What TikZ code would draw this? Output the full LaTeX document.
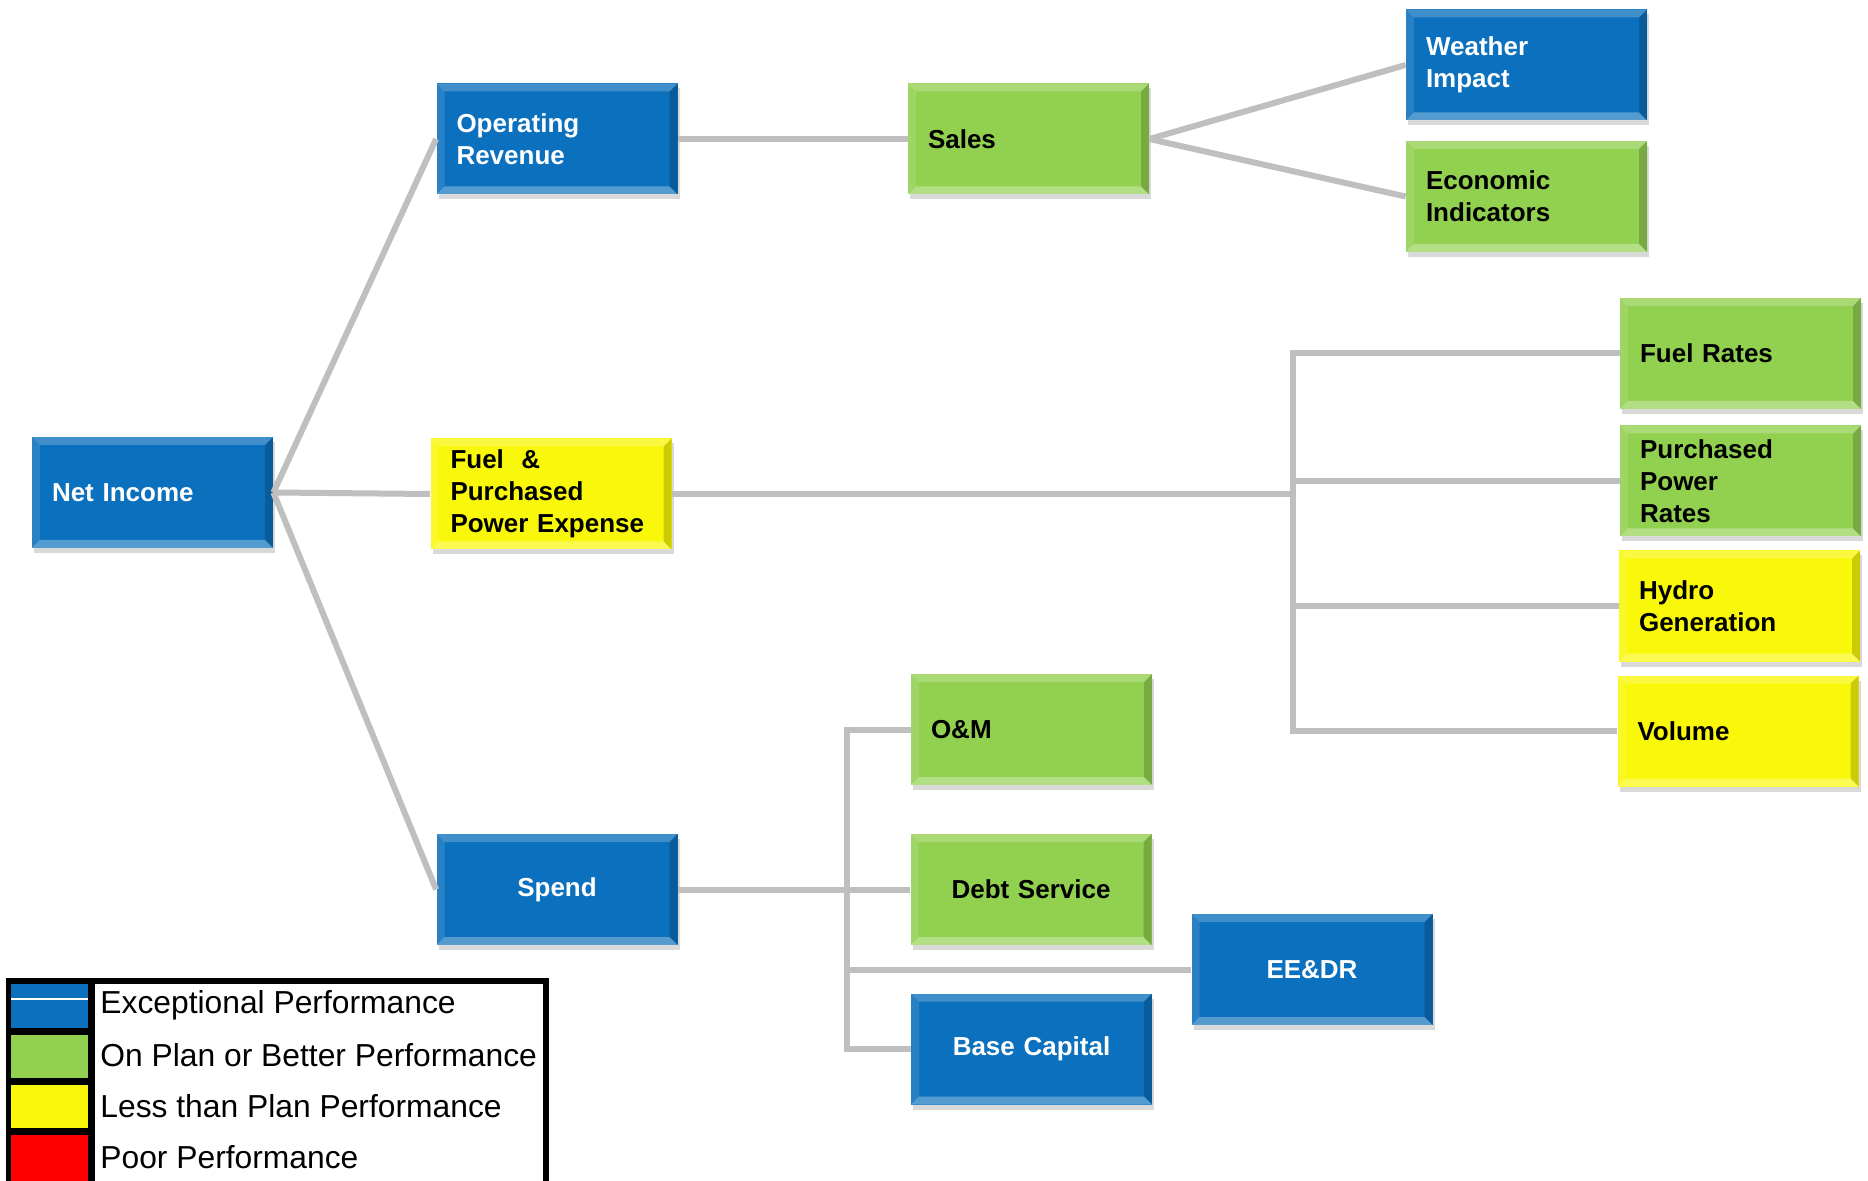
\documentclass[tikz,border=0pt]{standalone}
\usepackage{fontspec}
\setmainfont{Liberation Sans}
\usetikzlibrary{shadows}
\definecolor{kpiblue}{RGB}{11,112,189}
\definecolor{kpigreen}{RGB}{146,208,80}
\definecolor{kpiyellow}{RGB}{250,248,10}
\definecolor{kpired}{RGB}{255,0,0}
\definecolor{linkgray}{RGB}{191,191,191}
\newcommand{\kpibevel}{%
\fill[white,opacity=.22] (path picture bounding box.north west) -- (path picture bounding box.north east) -- ([xshift=-4pt,yshift=-4pt]path picture bounding box.north east) -- ([xshift=4pt,yshift=-4pt]path picture bounding box.north west) -- cycle;
\fill[white,opacity=.3] (path picture bounding box.south west) -- (path picture bounding box.south east) -- ([xshift=-4pt,yshift=4pt]path picture bounding box.south east) -- ([xshift=4pt,yshift=4pt]path picture bounding box.south west) -- cycle;
\fill[black,opacity=.18] (path picture bounding box.north east) -- (path picture bounding box.south east) -- ([xshift=-4pt,yshift=4pt]path picture bounding box.south east) -- ([xshift=-4pt,yshift=-4pt]path picture bounding box.north east) -- cycle;
\fill[white,opacity=.12] (path picture bounding box.north west) -- (path picture bounding box.south west) -- ([xshift=4pt,yshift=4pt]path picture bounding box.south west) -- ([xshift=4pt,yshift=-4pt]path picture bounding box.north west) -- cycle;}
\tikzset{
  kpibox/.style={rectangle, minimum width=120.5pt, minimum height=55.5pt,
    inner xsep=10pt, inner ysep=0pt, text width=100.5pt, align=left,
    font=\bfseries\fontsize{13}{16}\selectfont,
    drop shadow={shadow xshift=1pt,shadow yshift=-2.5pt,opacity=0.3},
    path picture={\kpibevel}},
  bluekpi/.style={kpibox, fill=kpiblue, text=white},
  greenkpi/.style={kpibox, fill=kpigreen, text=black},
  yellowkpi/.style={kpibox, fill=kpiyellow, text=black},
  mid/.style={align=center},
  link/.style={draw=linkgray, line width=3pt},
  legtext/.style={anchor=west, inner sep=0pt, font=\fontsize{15.9}{18}\selectfont}
}
\begin{document}
\begin{tikzpicture}[x=0.5pt,y=-0.5pt]
\useasboundingbox (0,0) rectangle (1868,1181);
\coordinate (fbus) at (1293,494);
\coordinate (sbus) at (847,889.5);
\node[bluekpi] (ni) at (152.5,492.5) {Net Income};
\node[bluekpi] (or) at (557,139) {Operating\\Revenue};
\node[yellowkpi] (fpp) at (551,494) {Fuel\ \ \&\\Purchased\\Power Expense};
\node[bluekpi,mid] (spend) at (557,889.5) {Spend};
\node[greenkpi] (sales) at (1028.5,139) {Sales};
\node[bluekpi] (weather) at (1526.5,65) {Weather\\Impact};
\node[greenkpi] (econ) at (1526.5,196.5) {Economic\\Indicators};
\node[greenkpi] (fuelrates) at (1740.5,353.5) {Fuel Rates};
\node[greenkpi] (ppr) at (1740.5,481) {Purchased\\Power\\Rates};
\node[yellowkpi] (hydro) at (1739.5,606) {Hydro\\Generation};
\node[yellowkpi] (volume) at (1738,731) {Volume};
\node[greenkpi] (om) at (1031.5,729.5) {O\&M};
\node[greenkpi,mid] (debt) at (1031,889.5) {Debt Service};
\node[bluekpi,mid] (eedr) at (1312,969.5) {EE\&DR};
\node[bluekpi,mid] (basecap) at (1031.5,1049) {Base Capital};
\draw[link] (ni.east) -- (or.west);
\draw[link] (ni.east) -- (fpp.west);
\draw[link] (ni.east) -- (spend.west);
\draw[link] (or.east) -- (sales.west);
\draw[link] (sales.east) -- (weather.west);
\draw[link] (sales.east) -- (econ.west);
\draw[link] (fpp.east) -- (fbus);
\draw[link] (fuelrates.west) -| (fbus);
\draw[link] (ppr.west) -| (fbus);
\draw[link] (hydro.west) -| (fbus);
\draw[link] (volume.west) -| (fbus);
\draw[link] (spend.east) -- (debt.west);
\draw[link] (om.west) -| (sbus);
\draw[link] (eedr.west) -| (sbus);
\draw[link] (basecap.west) -| (sbus);
\fill[black] (6,978) rectangle (549,1181);
\fill[white] (95,984) rectangle (543,1181);
\fill[kpiblue] (11,984) rectangle (88,1028);
\draw[white,line width=0.6pt] (11,999) -- (88,999);
\fill[kpigreen] (11,1035) rectangle (88,1078);
\fill[kpiyellow] (11,1085) rectangle (88,1128);
\fill[kpired] (11,1135) rectangle (88,1181);
\node[legtext] (lg1) at (100,1005) {Exceptional Performance};
\node[legtext] (lg2) at (100,1055) {On Plan or Better Performance};
\node[legtext] (lg3) at (100,1106) {Less than Plan Performance};
\node[legtext] (lg4) at (100,1157) {Poor Performance};
\end{tikzpicture}
\end{document}
